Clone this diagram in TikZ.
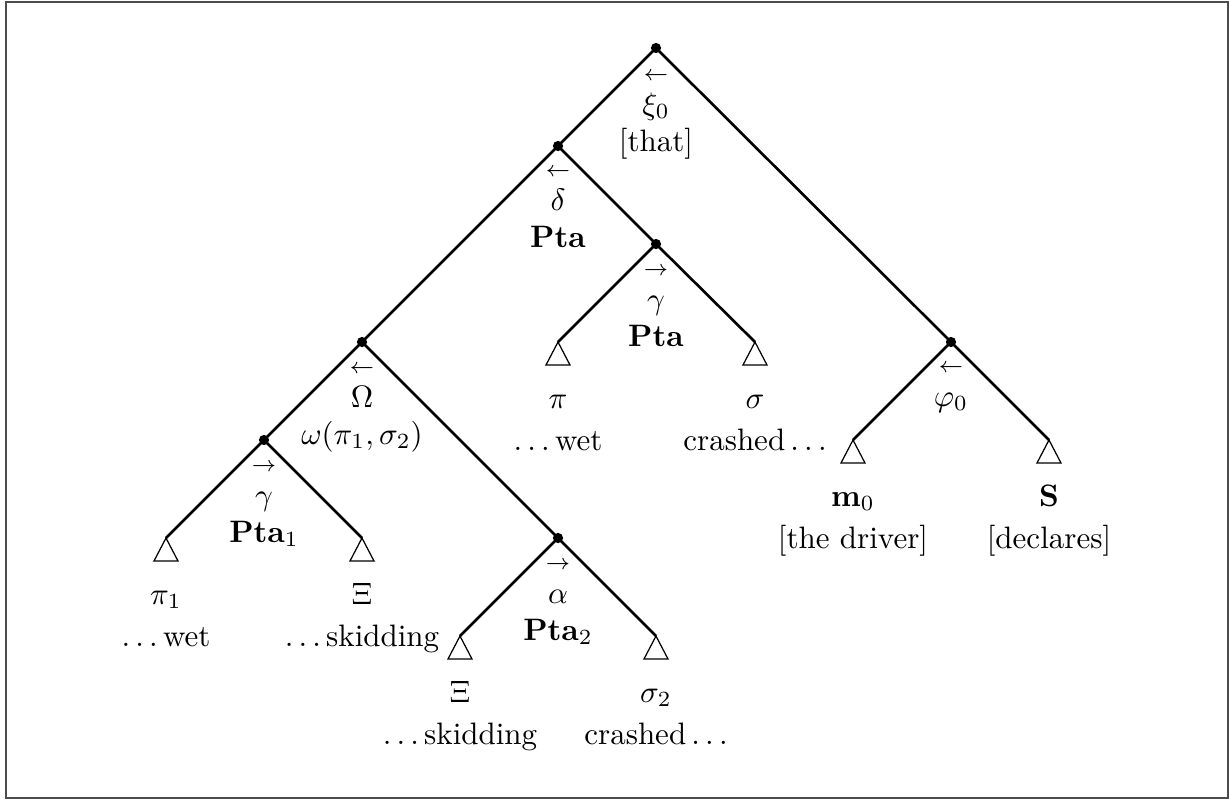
\documentclass[tikz,border=0pt]{standalone}
\newcommand{\labstack}[1]{\begin{tabular}[t]{@{}c@{}}#1\end{tabular}}
\newcommand{\arrover}[2]{\sbox0{$#2$}\makebox[0pt][l]{\makebox[\wd0]{\raisebox{10.9pt}{$\scriptstyle#1$}}}\usebox0}
\newcommand{\eldots}{.\kern1.67pt.\kern1.67pt.\kern1.67pt}
\newcommand{\cdotsafter}{\kern1.67pt.\kern1.67pt.\kern1.67pt.}
\begin{document}
\begin{tikzpicture}[x=0.3226pt,y=-0.3226pt,
  edge/.style={line width=0.85pt},
  dotnode/.style={circle,fill,inner sep=0pt,minimum size=3.3pt},
  roof/.style={line width=0.4pt,line join=miter},
  lbl/.style={anchor=base,inner sep=0pt}]
\useasboundingbox (0,0) rectangle (1229,799);
\draw[line width=0.65pt, black!70] (6,1.5) rectangle (1228,798);
% internal nodes
\node[dotnode] (n0) at (656,48) {};
\node[dotnode] (n1) at (558,146) {};
\node[dotnode] (n2) at (656,244) {};
\node[dotnode] (n3) at (362,342) {};
\node[dotnode] (n4) at (951,342) {};
\node[dotnode] (n5) at (264,440) {};
\node[dotnode] (n6) at (558,538) {};
% leaves (roof apexes)
\coordinate (lpi) at (558,342);
\coordinate (lsigma) at (755,342);
\coordinate (lm) at (853,440);
\coordinate (lS) at (1049,440);
\coordinate (lpione) at (166,538);
\coordinate (lxione) at (362,538);
\coordinate (lxitwo) at (460,636);
\coordinate (lsigmatwo) at (656,636);
% edges
\draw[edge] (n0.center) -- (n1.center);
\draw[edge] (n0.center) -- (n4.center);
\draw[edge] (n1.center) -- (n3.center);
\draw[edge] (n1.center) -- (n2.center);
\draw[edge] (n2.center) -- (lpi);
\draw[edge] (n2.center) -- (lsigma);
\draw[edge] (n3.center) -- (n5.center);
\draw[edge] (n3.center) -- (n6.center);
\draw[edge] (n4.center) -- (lm);
\draw[edge] (n4.center) -- (lS);
\draw[edge] (n5.center) -- (lpione);
\draw[edge] (n5.center) -- (lxione);
\draw[edge] (n6.center) -- (lxitwo);
\draw[edge] (n6.center) -- (lsigmatwo);
% roofs
\foreach \c in {lpi,lsigma,lm,lS,lpione,lxione,lxitwo,lsigmatwo}
  \draw[roof] (\c) -- ++(-12,23) -- ++(24,0) -- cycle;
% internal labels
\node[lbl] (t0) at (656,114) {\labstack{\arrover{\leftarrow}{\xi_0}\\ {[that]}}};
\node[lbl] (t1) at (558,210) {\labstack{\arrover{\leftarrow}{\delta}\\ \textbf{Pta}}};
\node[lbl] (t2) at (656,309) {\labstack{\arrover{\rightarrow}{\gamma}\\ \textbf{Pta}}};
\node[lbl] (t3) at (362,407) {\labstack{\arrover{\leftarrow}{\Omega}\\ $\omega(\pi_1,\sigma_2)$}};
\node[lbl] (t4) at (951,406) {\labstack{\arrover{\leftarrow}{\varphi_0}}};
\node[lbl] (t5) at (264,505) {\labstack{\arrover{\rightarrow}{\gamma}\\ $\mathbf{Pta}_1$}};
\node[lbl] (t6) at (558,603) {\labstack{\arrover{\rightarrow}{\alpha}\\ $\mathbf{Pta}_2$}};
% leaf labels
\node[lbl] (ypi) at (558,408) {\labstack{$\pi$\\[1.8pt] \eldots wet}};
\node[lbl] (ysigma) at (755,408) {\labstack{$\sigma$\\[1.8pt] crashed\cdotsafter}};
\node[lbl] (ym) at (853,506) {\labstack{$\mathbf{m}_0$\\[1.8pt] {[the driver]}}};
\node[lbl] (yS) at (1049,506) {\labstack{$\mathbf{S}$\\[1.8pt] {[declares]}}};
\node[lbl] (ypione) at (166,604) {\labstack{$\pi_1$\\[1.8pt] \eldots wet}};
\node[lbl] (yxione) at (362,604) {\labstack{$\Xi$\\[1.8pt] \eldots skidding}};
\node[lbl] (yxitwo) at (460,702) {\labstack{$\Xi$\\[1.8pt] \eldots skidding}};
\node[lbl] (ysigmatwo) at (656,702) {\labstack{$\sigma_2$\\[1.8pt] crashed\cdotsafter}};
\end{tikzpicture}
\end{document}
